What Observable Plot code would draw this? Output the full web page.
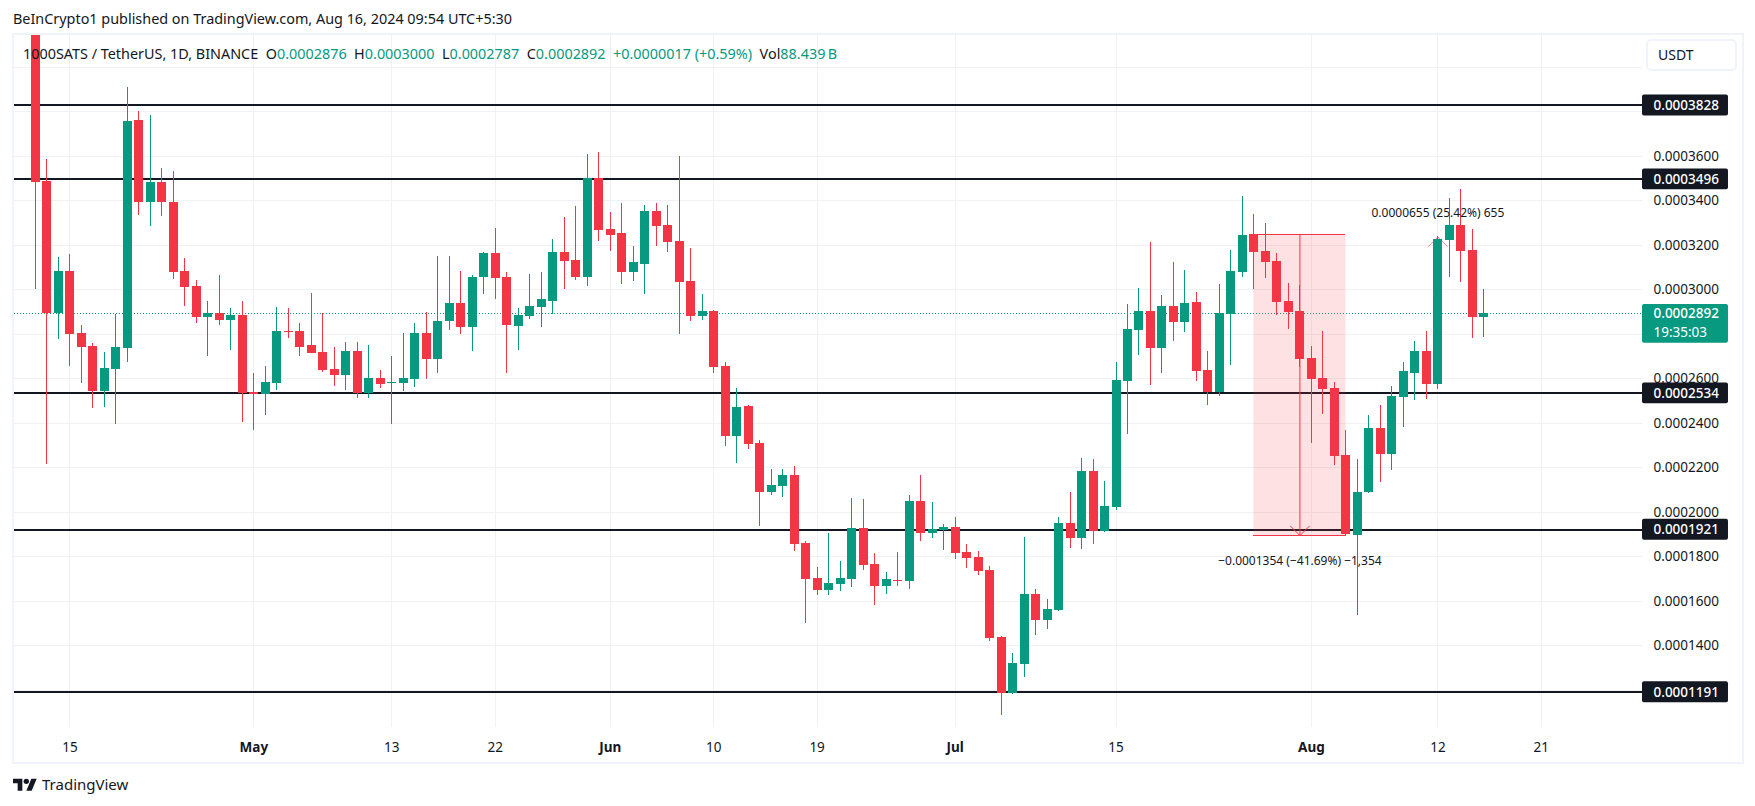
<!DOCTYPE html>
<html><head><meta charset="utf-8">
<script src="https://cdn.jsdelivr.net/npm/d3@7"></script>
<script src="https://cdn.jsdelivr.net/npm/@observablehq/plot@0.6"></script>
<style>
html,body{margin:0;padding:0;background:#fff;width:1755px;height:806px;overflow:hidden}
body{position:relative;font-family:"Noto Sans",sans-serif;color:#131722}
#head{position:absolute;left:13px;top:8px;font-size:14.4px;line-height:22px;white-space:nowrap}
#chart{position:absolute;left:0;top:33px}
#frame{position:absolute;left:12px;top:33px;width:1728px;height:727px;border:2px solid #f0f3fa;pointer-events:none}
#legend{position:absolute;left:23px;top:43px;font-size:14.4px;line-height:22px;white-space:pre}
#legend b{font-weight:400;color:#089981}
#unit{position:absolute;left:1646px;top:39px;width:87px;height:28px;border:2px solid #f0f3fa;border-radius:5px;font-size:14px;line-height:28px;text-indent:10px;background:#fff}
#foot{position:absolute;left:13px;top:772px;display:flex;align-items:center;gap:5px;font-size:15px;line-height:24px}
</style></head><body>
<div id="chart"></div>
<div id="frame"></div>
<div id="head">BeInCrypto1 published on TradingView.com, Aug 16, 2024 09:54 UTC+5:30</div>
<div id="legend"></div>
<div id="unit">USDT</div>
<div id="foot"><svg width="24" height="16" viewBox="0 0 36 24"><path fill="#131722" d="M14 22H7V11H0V4h14v18zM28 22h-8l7.5-18h8L28 22z"/><circle fill="#131722" cx="20" cy="8" r="4"/></svg><span>TradingView</span></div>
<script>
// Values are in ten-millionths of USDT, one entry per daily candle from 2024-04-12
const firstDay = "2024-04-12";
const opens = [4300,3487,2891,3083,2804,2745,2543,2642,2737,3761,3394,3483,3393,3083,3015,2877,2894,2862,2885,
2536,2530,2579,2814,2813,2750,2718,2642,2615,2723,2534,2602,2580,2579,2597,2804,2687,2858,2939,2831,3056,3163,3056,2835,2880,2921,2948,3168,3132,3056,3500,
3271,3253,3078,3114,3352,3289,3217,3038,2880,2903,2656,2341,2476,2310,2089,2116,2166,1860,1703,1649,1676,1698,1928,1766,1667,1694,1689,2049,1905,1919,
1932,1820,1797,1739,1438,1186,1316,1631,1514,1559,1950,1883,2184,1914,2022,2588,2817,2903,2737,2925,2853,2943,2638,2539,2889,3078,3249,3172,3128,2948,2903,
2692,2602,2557,2256,1896,2088,2376,2259,2515,2623,2722,2573,3220,3287,3175,2876];
const highs = [4350,3586,3145,3159,2840,2759,2718,2888,3909,3802,3784,3545,3532,3141,3042,2948,3065,2916,2948,
2624,2656,2921,2916,2849,2984,2894,2741,2763,2763,2750,2638,2700,2804,2849,2898,3150,3150,3082,3065,3168,3276,3078,2916,3069,3078,3226,3325,3375,3608,3617,
3348,3388,3195,3379,3388,3379,3599,3186,2979,2905,2674,2557,2478,2323,2193,2193,2206,1869,1752,1905,1779,2062,2058,1815,1730,1820,2076,2166,2044,1945,
1977,1856,1824,1757,1442,1366,1887,1653,1609,1977,2089,2242,2238,2139,2674,2934,3006,3213,2975,3123,3087,2988,2723,3024,3177,3420,3339,3298,3164,3029,3020,
2745,2813,2584,2368,2238,2434,2479,2564,2672,2767,2812,3240,3409,3449,3269,3000];
const lows = [3003,2214,2777,2657,2579,2465,2470,2393,2674,3334,3285,3330,3047,2925,2849,2700,2840,2727,2405,
2368,2435,2548,2781,2700,2714,2629,2566,2548,2512,2512,2557,2395,2543,2561,2597,2624,2817,2799,2723,2979,2957,2624,2727,2867,2831,2889,3002,3042,3015,3217,
3172,3024,3038,2979,3195,3168,2799,2858,2862,2624,2296,2220,2283,1937,2076,2067,1824,1501,1626,1626,1644,1662,1739,1581,1631,1667,1653,1869,1883,1829,
1788,1748,1716,1420,1087,1182,1258,1447,1474,1555,1838,1833,1856,1908,2008,2350,2705,2570,2624,2768,2809,2588,2480,2521,2660,3056,3002,3051,2885,2822,2650,
2310,2440,2211,1890,1535,2083,2133,2187,2380,2501,2506,2551,3054,3031,2779,2787];
const closes = [3480,2891,3083,2801,2741,2543,2647,2741,3757,3394,3483,3390,3078,3011,2873,2891,2862,2886,2534,
2531,2584,2813,2810,2741,2714,2638,2615,2723,2534,2602,2575,2585,2602,2804,2687,2858,2939,2831,3056,3163,3051,2840,2885,2925,2957,3168,3127,3056,3500,3267,
3244,3078,3123,3352,3285,3213,3033,2880,2903,2651,2341,2471,2305,2089,2121,2166,1856,1698,1649,1680,1703,1928,1761,1667,1698,1689,2049,1905,1923,1932,
1815,1793,1734,1433,1186,1321,1631,1514,1564,1950,1883,2184,1914,2026,2593,2822,2903,2737,2925,2853,2939,2633,2539,2894,3083,3244,3168,3123,2943,2898,2687,
2597,2552,2251,1899,2089,2376,2259,2520,2632,2722,2573,3225,3287,3170,2875,2892];

// horizontal support and resistance levels, and the price-axis ticks
const levels = [3828,3496,2534,1921,1191];
const priceTicks = [3600,3400,3200,3000,2600,2400,2200,2000,1800,1600,1400];
const gridPrices = [4000,3800,3600,3400,3200,3000,2800,2600,2400,2200,2000,1800,1600,1400,1200];
const lastPrice = 2892;
const countdown = "19:35:03";

// time-axis ticks
const dayTicks = ["2024-04-15","2024-05-13","2024-05-22","2024-06-10","2024-06-19","2024-07-15","2024-08-12","2024-08-21"];
const monthTicks = [["2024-05-01","May"],["2024-06-01","Jun"],["2024-07-01","Jul"],["2024-08-01","Aug"]];

// measuring-tool annotations
const drop = {from:"2024-07-27", to:"2024-08-04", mid:"2024-07-31", high:3249, low:1895, text:"\u22120.0001354 (\u221241.69%) \u22121,354", labelAt:1778};
const rise = {at:"2024-08-12", base:3000, tip:3237, text:"0.0000655 (25.42%) 655", labelAt:3343};

// legend
const legendParts = [["1000SATS / TetherUS, 1D, BINANCE  ",0],["O",0],["0.0002876",1],["  H",0],["0.0003000",1],["  L",0],["0.0002787",1],["  C",0],["0.0002892",1],["  +0.0000017 (+0.59%)",1],["  Vol",0],["88.439\u2009B",1]];

const UP="#089981", DOWN="#f23645", INK="#131722", GRID="#f0f1f5";
const P = v => v/1e7;
const D = s => new Date(s+"T00:00:00Z");
const fmt = p => p.toFixed(7);
const DAY = 864e5;
const candles = opens.map((o,i)=>({
  date:new Date(D(firstDay).getTime()+i*DAY), open:P(o), high:P(highs[i]), low:P(lows[i]), close:P(closes[i]), color:closes[i]>=o?UP:DOWN
}));
const xStart = new Date(D("2024-04-15").getTime()-4.82*DAY);
const xEnd = new Date(D("2024-04-15").getTime()+136.8*DAY);
const tagEnd = new Date(xEnd.getTime()+7.48*DAY);
const lv = levels.map(P);

document.getElementById("legend").innerHTML = legendParts.map(([t,g])=>g?`<b>${t}</b>`:t).join("");

const axisFont = {fontSize:13.5, tickSize:0};
const plot = Plot.plot({
  width:1755, height:729, marginLeft:14, marginRight:113, marginTop:2, marginBottom:35,
  style:{fontFamily:'"Noto Sans",sans-serif', background:"transparent", color:INK, overflow:"hidden"},
  x:{type:"utc", domain:[xStart,xEnd], axis:null},
  y:{type:"linear", domain:[P(1032.5),P(4142.6)], axis:null},
  marks:[
    Plot.gridY(gridPrices.map(P),{stroke:GRID,strokeOpacity:1,strokeWidth:1,shapeRendering:"crispEdges"}),
    Plot.gridX([...dayTicks,...monthTicks.map(d=>d[0])].map(D),{stroke:GRID,strokeOpacity:1,strokeWidth:1,shapeRendering:"crispEdges"}),
    Plot.ruleY([P(lastPrice)],{stroke:UP,strokeWidth:1,strokeDasharray:"1,2",shapeRendering:"crispEdges"}),
    Plot.ruleY(lv,{stroke:INK,strokeWidth:2,shapeRendering:"crispEdges"}),
    Plot.rect([drop],{x1:d=>D(d.from),x2:d=>D(d.to),y1:d=>P(d.low),y2:d=>P(d.high),fill:DOWN,fillOpacity:0.15}),
    Plot.ruleY([P(drop.high),P(drop.low)],{x1:()=>D(drop.from),x2:()=>D(drop.to),stroke:DOWN,strokeWidth:1,shapeRendering:"crispEdges"}),
    Plot.arrow([rise],{x1:d=>D(d.at),x2:d=>D(d.at),y1:d=>P(d.base),y2:d=>P(d.tip),stroke:DOWN,strokeWidth:1,strokeOpacity:0.6,bend:0,headLength:20,headAngle:90,insetEnd:0}),
    Plot.ruleX(candles,{x:"date",y1:"low",y2:"high",stroke:"color",strokeWidth:1,clip:true,shapeRendering:"crispEdges"}),
    Plot.ruleX(candles,{x:"date",y1:"open",y2:"close",stroke:"color",strokeWidth:9,clip:true,shapeRendering:"crispEdges"}),
    Plot.arrow([drop],{x1:d=>D(d.mid),x2:d=>D(d.mid),y1:d=>P(d.high),y2:d=>P(d.low),stroke:DOWN,strokeWidth:1,bend:0,headLength:20,headAngle:90,insetEnd:0}),
    Plot.text([drop],{x:d=>D(d.mid),y:d=>P(d.labelAt),text:"text",fontSize:12,fill:INK}),
    Plot.text([rise],{x:d=>D(d.at),y:d=>P(d.labelAt),text:"text",fontSize:12,fill:INK}),
    Plot.rect(lv,{x1:()=>xEnd,x2:()=>tagEnd,y1:d=>d-P(47),y2:d=>d+P(47),fill:INK,rx:2,clip:false}),
    Plot.rect([P(lastPrice)],{x1:()=>xEnd,x2:()=>tagEnd,y1:d=>d-P(132),y2:d=>d+P(42),fill:UP,rx:2}),
    Plot.axisY(priceTicks.map(P),{anchor:"right",...axisFont,tickPadding:11,tickFormat:fmt,fill:INK,label:null}),
    Plot.axisY(lv,{anchor:"right",...axisFont,tickPadding:11,tickFormat:fmt,fill:"#fff",fontWeight:500,label:null}),
    Plot.axisY([P(lastPrice)],{anchor:"right",...axisFont,tickPadding:11,tickFormat:fmt,fill:"#fff",fontWeight:500,label:null}),
    Plot.text([P(lastPrice)],{x:()=>xEnd,y:d=>d,dx:11,dy:19,text:()=>countdown,textAnchor:"start",fontSize:13.5,fill:"#fff"}),
    Plot.axisX(dayTicks.map(D),{anchor:"bottom",...axisFont,tickPadding:15,tickFormat:d=>String(d.getUTCDate()),label:null,fill:INK}),
    Plot.axisX(monthTicks.map(d=>D(d[0])),{anchor:"bottom",...axisFont,tickPadding:15,fontWeight:700,tickFormat:d=>monthTicks.find(m=>+D(m[0])===+d)[1],label:null,fill:INK})
  ]
});
document.getElementById("chart").appendChild(plot);
</script>
</body></html>
